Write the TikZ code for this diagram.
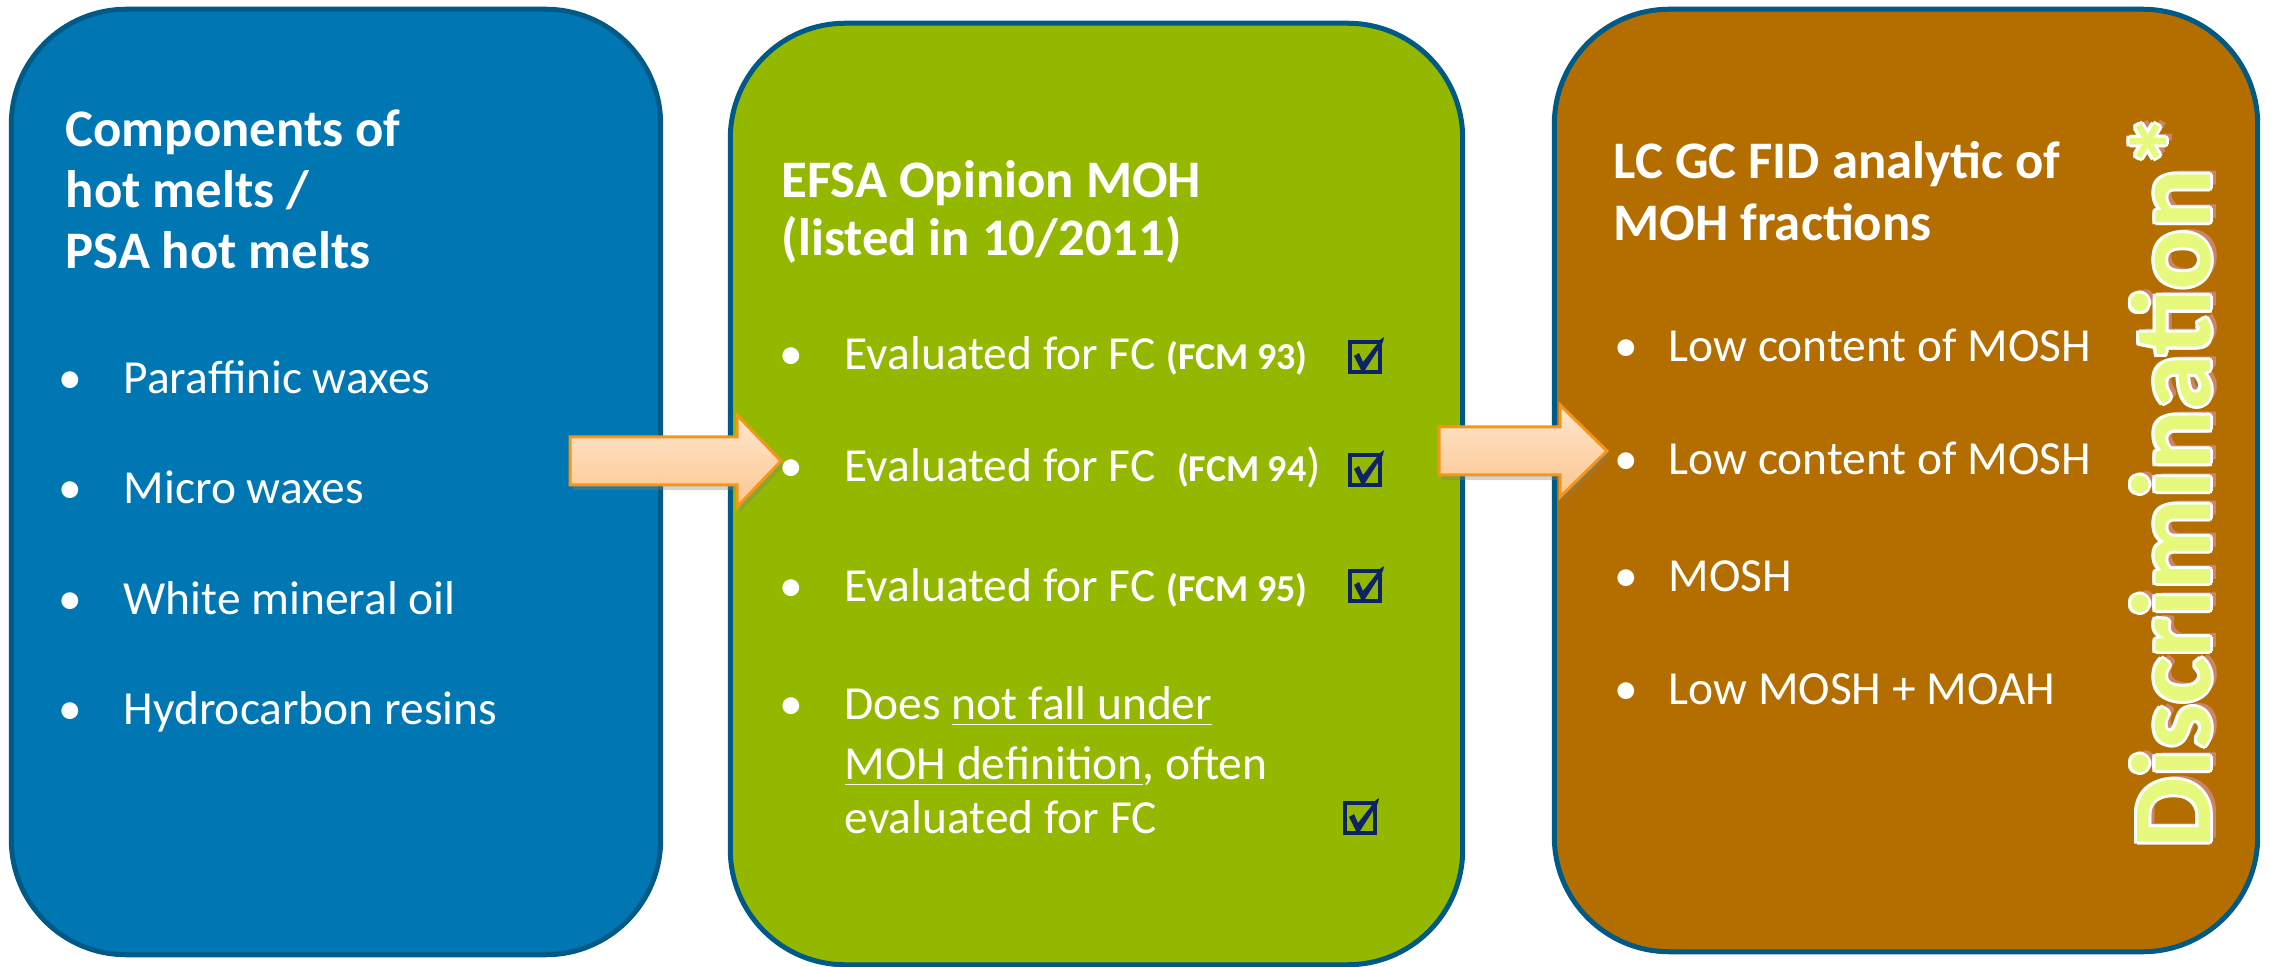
\documentclass[tikz,border=0pt]{standalone}
\usepackage{fontspec}
\setmainfont{Carlito}
\usetikzlibrary{shadows}
\definecolor{bblue}{HTML}{0077B3}
\definecolor{bgreen}{HTML}{94B800}
\definecolor{bbrown}{HTML}{B46E00}
\definecolor{edge}{HTML}{005A85}
\definecolor{navy}{HTML}{0D2367}
\definecolor{arrfillA}{HTML}{FEE6CE}
\definecolor{arrfillB}{HTML}{FCC68E}
\definecolor{arrline}{HTML}{F3961A}
\definecolor{discY}{HTML}{E6F97C}
\definecolor{discP}{HTML}{D58C8C}
\newcommand\disctxt{Discrimination*}
\newcommand\smb[1]{{\bfseries\fontsize{10.8}{12}\selectfont #1}}
\begin{document}
\begin{tikzpicture}[x=0.01cm,y=-0.01cm,
  box/.style={draw=edge, line width=0.05cm, rounded corners=1.15cm, inner sep=0},
  ttl/.style={anchor=base west, inner sep=0, text=white, font=\fontsize{15}{18}\selectfont\bfseries},
  itmb/.style={anchor=base west, inner sep=0, text=white, font=\fontsize{13.5}{16}\selectfont},
  barrow/.style={draw=arrline, line width=0.03cm, top color=arrfillA, bottom color=arrfillB, line join=miter,
     drop shadow={opacity=0.35, shadow xshift=0.03cm, shadow yshift=-0.05cm}},
  disc/.style={rotate=90, anchor=base west, inner sep=0, font=\fontsize{32}{32}\selectfont\bfseries},
  chk/.pic={
    \draw[navy, line width=0.035cm] (-15,-15) rectangle (15,15);
    \fill[navy] (-11,-1) -- (-6,-4) -- (-2,5) -- (16,-18) -- (19,-20) -- (18,-15) -- (0,13) -- (-4,13) -- cycle;
  }
]
\useasboundingbox (0,0) rectangle (2269,967);
% boxes
\node[box, fill=bblue, minimum width=6.49cm, minimum height=9.45cm] (b1) at (336,482) {};
\node[box, fill=bgreen, minimum width=7.32cm, minimum height=9.41cm] (b2) at (1096.5,494) {};
\node[box, fill=bbrown, minimum width=7.03cm, minimum height=9.42cm] (b3) at (1906,480.5) {};
% arrows
\coordinate (a1) at (570,459.5);
\coordinate (a2) at (1439,449.5);
\draw[barrow] (a1) ++(0,-22.5) -- ++(167,0) -- ++(0,-22) -- ++(44,46) -- ++(-44,46) -- ++(0,-22) -- ++(-167,0) -- cycle;
\draw[barrow] (a2) ++(0,-22.5) -- ++(121,0) -- ++(0,-22) -- ++(47,46) -- ++(-47,46) -- ++(0,-22) -- ++(-121,0) -- cycle;
% box 1
\node[ttl] (t11) at (65,147) {Components of};
\node[ttl] (t12) at (65,208) {hot melts /};
\node[ttl] (t13) at (65,269) {PSA hot melts};
\node[itmb] (d11) at (58,394) {•};
\node[itmb] (i11) at (123,394) {Paraffinic waxes};
\node[itmb] (d12) at (58,504) {•};
\node[itmb] (i12) at (123,504) {Micro waxes};
\node[itmb] (d13) at (58,615) {•};
\node[itmb] (i13) at (123,615) {White mineral oil};
\node[itmb] (d14) at (58,724) {•};
\node[itmb] (i14) at (123,724) {Hydrocarbon resins};
% box 2
\node[ttl] (t21) at (781,198) {EFSA Opinion MOH};
\node[ttl] (t22) at (781,256) {(listed in 10/2011)};
\node[itmb] (d21) at (779,370) {•};
\node[itmb] (i21) at (844,370) {Evaluated for FC \smb{(FCM 93)}};
\node[itmb] (d22) at (779,482) {•};
\node[itmb] (i22) at (844,482) {Evaluated for FC~~\smb{(FCM 94})};
\node[itmb] (d23) at (779,601) {•};
\node[itmb] (i23) at (844,601) {Evaluated for FC \smb{(FCM 95)}};
\node[itmb] (d24) at (779,719) {•};
\node[itmb] (i24a) at (844,719) {Does \underline{not fall under}};
\node[itmb] (i24b) at (844,779) {\underline{MOH definition}, often};
\node[itmb] (i24c) at (844,833) {evaluated for FC};
\pic (c1) at (1365,357) {chk};
\pic (c2) at (1365,470) {chk};
\pic (c3) at (1365,586) {chk};
\pic (c4) at (1360,818) {chk};
% box 3
\node[ttl] (t31) at (1613,179) {LC GC FID analytic of};
\node[ttl] (t32) at (1613,241) {MOH fractions};
\node[itmb] (d31) at (1614,362) {•};
\node[itmb] (i31) at (1668,362) {Low content of MOSH};
\node[itmb] (d32) at (1614,475) {•};
\node[itmb] (i32) at (1668,475) {Low content of MOSH};
\node[itmb] (d33) at (1614,591) {•};
\node[itmb] (i33) at (1668,591) {MOSH};
\node[itmb] (d34) at (1614,704) {•};
\node[itmb] (i34) at (1668,704) {Low MOSH + MOAH};
% Discrimination
\node[disc, text=discP, opacity=0.75] (dsh) at (2216,845) {\disctxt};
\foreach \dx/\dy [count=\k] in {-3/0, 3/0, 0/-3, 0/3, -2.1/-2.1, 2.1/2.1, -2.1/2.1, 2.1/-2.1}
  \node[disc, text=white] (dw\k) at (2210+\dx,849+\dy) {\disctxt};
\node[disc, text=discY] (dtx) at (2210,849) {\disctxt};
\end{tikzpicture}
\end{document}
